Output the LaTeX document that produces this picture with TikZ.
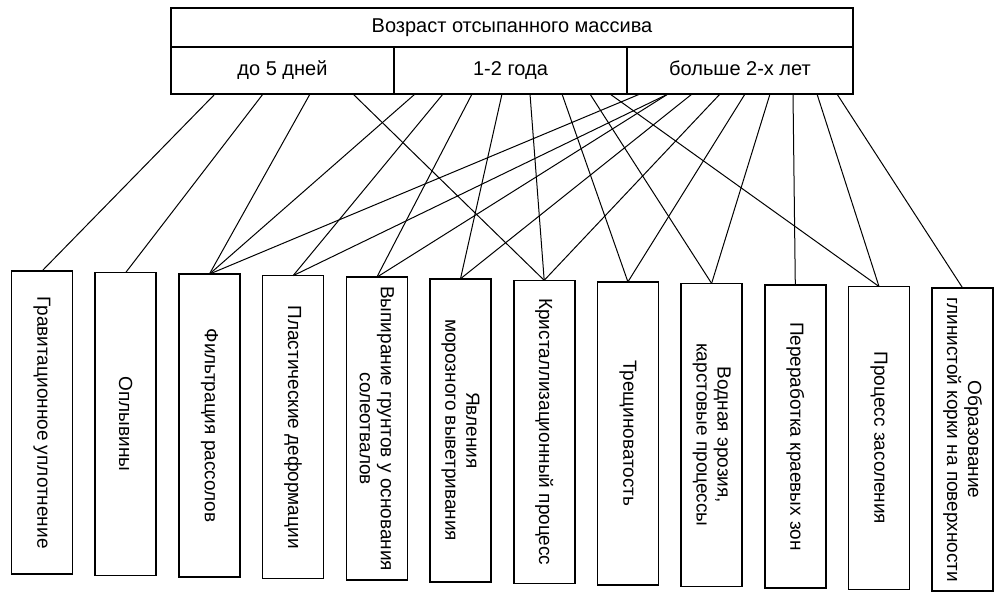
\documentclass[tikz,border=0pt]{standalone}
\usepackage{fontspec}
\setmainfont{Liberation Sans}
\usetikzlibrary{calc}

\tikzset{
  cell/.style={draw, line width=.8pt, inner sep=0pt, outer sep=0pt, text height=7.5pt, text depth=2.5pt,
    font=\fontsize{10}{12}\selectfont},
  proc/.style={draw, line width=.8pt, rotate=-90, inner sep=0pt, outer sep=0pt,
    minimum width=151.5pt, minimum height=30.5pt, align=center, font=\fontsize{9.5}{10.5}\selectfont},
  link/.style={line width=.5pt}
}

\begin{document}
\begin{tikzpicture}[x=.5pt, y=-.5pt]
\useasboundingbox (0,0) rectangle (1000,596);
% age of the dump
\node[cell, minimum width=341pt, minimum height=19.5pt] (age) at (512,27.5) {Возраст отсыпанного массива};
\node[cell, minimum width=111.5pt, minimum height=23.5pt] (d5) at (282.5,70.5) {до 5 дней};
\node[cell, minimum width=116.5pt, minimum height=23.5pt] (y12) at (510.5,70.5) {1-2 года};
\node[cell, minimum width=113pt, minimum height=23.5pt] (y2) at (740,70.5) {больше 2-х лет};
% processes (rotated, so .west is the top)
\foreach \i/\txt in {1/Гравитационное уплотнение, 2/Оплывины, 3/Фильтрация рассолов,
    4/Пластические деформации, 5/{Выпирание грунтов у основания\\солеотвалов},
    6/{Явления\\морозного выветривания}, 7/Кристаллизационный процесс, 8/Трещиноватость,
    9/{Водная эрозия,\\карстовые процессы}, 10/Переработка краевых зон, 11/Процесс засоления,
    12/{Образование\\глинистой корки на поверхности}}
  \node[proc] (b\i) at ({42+83.7*(\i-1)},{422.5+1.55*(\i-1)}) {\txt};
% links: cell / offset along its bottom edge / process
\foreach \from/\dx/\to in {d5/44/b1, d5/92/b2, d5/139/b3, d5/182/b7,
    y12/21/b3, y12/49/b4, y12/78/b5, y12/108/b6, y12/136/b7, y12/168/b8, y12/196/b9, y12/216/b11,
    y2/13/b3, y2/41/b4, y2/41/b5, y2/65/b6, y2/93/b7, y2/118/b8, y2/143/b9, y2/166/b10, y2/190/b11, y2/210/b12}
  \draw[link] ($(\from.south west)+(\dx,0)$) -- (\to.west);
\end{tikzpicture}
\end{document}
